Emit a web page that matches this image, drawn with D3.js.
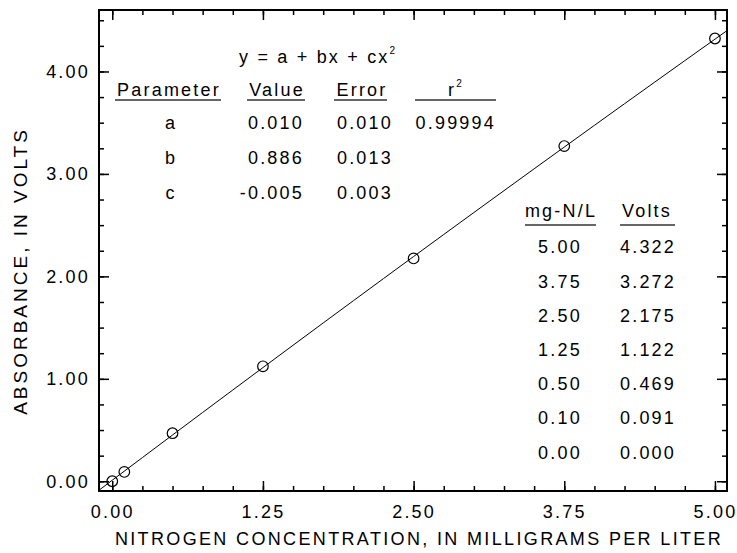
<!DOCTYPE html>
<html lang='en'>
<head>
	<meta charset='UTF-8'/>
	<title>Nitrogen calibration curve</title>
	<script src='https://cdnjs.cloudflare.com/ajax/libs/d3/7.8.5/d3.min.js'></script>
	<style>
		body {margin: 0; background: #fff;}
		svg {display: block; font-family: 'Liberation Sans', Arial, Helvetica, sans-serif;}
		text {fill: #000;}
		.tick line {stroke: #000; stroke-width: 1.5;}
	</style>
</head>
<body>
	<div class='graph'></div>
	<script>
		// data
		const concentration = [5.00, 3.75, 2.50, 1.25, 0.50, 0.10, 0.00];
		const volts = [4.322, 3.272, 2.175, 1.122, 0.469, 0.091, 0.000];

		// fit y = a + bx + cx^2
		const paramNames = ['a', 'b', 'c'];
		const paramValues = [0.010, 0.886, -0.005];
		const paramErrors = [0.010, 0.013, 0.003];
		const rSquared = '0.99994';

		const xTicks = [0, 1.25, 2.5, 3.75, 5];
		const yTicks = [0, 1, 2, 3, 4];
		const xMinor = [0, 0.25, 0.5, 0.75, 1, 1.25, 1.5, 1.75, 2, 2.25, 2.5, 2.75, 3, 3.25, 3.5, 3.75, 4, 4.25, 4.5, 4.75, 5];
		const yMinor = [0, 0.25, 0.5, 0.75, 1, 1.25, 1.5, 1.75, 2, 2.25, 2.5, 2.75, 3, 3.25, 3.5, 3.75, 4, 4.25, 4.5];

		var width = 737;
		var height = 553;
		var margin = ({top: 10, right: 10, bottom: 62, left: 99});

		var svg = d3.select('.graph')
			.append('svg')
			.attr('width', width)
			.attr('height', height);

		const X_SCALE = d3.scaleLinear()
			.domain([-0.11, 5.1])
			.range([margin.left, width - margin.right]);
		const Y_SCALE = d3.scaleLinear()
			.domain([-0.095, 4.6])
			.range([height - margin.bottom, margin.top]);

		const FONT = 18;
		const SPACING = '2.2px';

		// axes: ticks point inward on all four sides
		function addAxis(axis, values, size, labels, transform) {
			let g = svg.append('g')
				.attr('transform', transform)
				.call(axis.tickValues(values).tickSize(-size).tickSizeOuter(0)
					.tickFormat(labels ? d3.format('.2f') : ''));
			g.select('.domain').remove();
			g.selectAll('text')
				.style('font-size', FONT + 'px')
				.style('letter-spacing', SPACING)
				.attr('fill', '#000');
			return g;
		}
		const atBottom = 'translate(0,' + (height - margin.bottom) + ')';
		const atTop = 'translate(0,' + margin.top + ')';
		const atLeft = 'translate(' + margin.left + ',0)';
		const atRight = 'translate(' + (width - margin.right) + ',0)';

		addAxis(d3.axisBottom(X_SCALE), xMinor, 5, false, atBottom);
		addAxis(d3.axisBottom(X_SCALE).tickPadding(14), xTicks, 10, true, atBottom);
		addAxis(d3.axisTop(X_SCALE), xMinor, 5, false, atTop);
		addAxis(d3.axisTop(X_SCALE), xTicks, 10, false, atTop);
		addAxis(d3.axisLeft(Y_SCALE), yMinor, 5, false, atLeft);
		addAxis(d3.axisLeft(Y_SCALE).tickPadding(9), yTicks, 10, true, atLeft);
		addAxis(d3.axisRight(Y_SCALE), yMinor, 5, false, atRight);
		addAxis(d3.axisRight(Y_SCALE), yTicks, 10, false, atRight);

		// frame
		svg.append('rect')
			.attr('x', margin.left)
			.attr('y', margin.top)
			.attr('width', width - margin.left - margin.right)
			.attr('height', height - margin.top - margin.bottom)
			.attr('fill', 'none')
			.attr('stroke', '#000')
			.attr('stroke-width', 2);

		// axis titles
		svg.append('text')
			.attr('x', 419)
			.attr('y', 545)
			.attr('text-anchor', 'middle')
			.style('font-size', FONT + 'px')
			.style('letter-spacing', '2.35px')
			.text('NITROGEN CONCENTRATION, IN MILLIGRAMS PER LITER');
		svg.append('text')
			.attr('transform', 'rotate(-90)')
			.attr('x', -271)
			.attr('y', 27)
			.attr('text-anchor', 'middle')
			.style('font-size', '19px')
			.style('letter-spacing', '3px')
			.text('ABSORBANCE, IN VOLTS');

		// fitted curve across the plot
		const fit = x => paramValues[0] + paramValues[1] * x + paramValues[2] * x * x;
		const fitX = [X_SCALE.domain()[0]].concat(xMinor, [X_SCALE.domain()[1]]);
		svg.append('path')
			.datum(fitX)
			.attr('fill', 'none')
			.attr('stroke', '#000')
			.attr('stroke-width', 1)
			.attr('d', d3.line().x(d => X_SCALE(d)).y(d => Y_SCALE(fit(d))));

		// data points
		svg.selectAll('circle.pt')
			.data(concentration)
			.enter()
			.append('circle')
			.attr('class', 'pt')
			.attr('cx', d => X_SCALE(d))
			.attr('cy', (d, i) => Y_SCALE(volts[i]))
			.attr('r', 5.3)
			.attr('fill', 'none')
			.attr('stroke', '#000')
			.attr('stroke-width', 1.2);

		// helper for table text
		function label(x, y, str, anchor) {
			return svg.append('text')
				.attr('x', x)
				.attr('y', y)
				.attr('text-anchor', anchor || 'middle')
				.style('font-size', FONT + 'px')
				.style('letter-spacing', SPACING)
				.text(str);
		}
		function underline(x1, x2, y) {
			svg.append('line')
				.attr('x1', x1).attr('x2', x2)
				.attr('y1', y).attr('y2', y)
				.attr('stroke', '#333')
				.attr('stroke-width', 1.6);
		}

		// parameter table
		let eq = label(239, 63, 'y = a + bx + cx', 'start');
		eq.append('tspan').attr('dy', -9).style('font-size', '10px').text('2');

		label(169, 96, 'Parameter');
		label(277, 96, 'Value');
		label(362, 96, 'Error');
		let r2 = label(456, 96, 'r');
		r2.append('tspan').attr('dy', -9).style('font-size', '10px').text('2');
		underline(115, 221, 100);
		underline(247, 305, 100);
		underline(334, 387, 100);
		underline(415, 496, 100);

		paramNames.forEach((p, i) => {
			let y = 129 + i * 35;
			label(171, y, p);
			label(304, y, d3.format('.3f')(paramValues[i]).replace('−', '-'), 'end');
			label(393, y, d3.format('.3f')(paramErrors[i]), 'end');
		});
		label(496, 129, rSquared, 'end');

		// data table
		label(561, 217, 'mg-N/L');
		label(647, 217, 'Volts');
		underline(525, 596, 225);
		underline(620, 675, 225);
		concentration.forEach((c, i) => {
			let y = 253.3 + i * 34.2;
			label(560, y, d3.format('.2f')(c));
			label(648, y, d3.format('.3f')(volts[i]));
		});
	</script>
</body>
</html>
